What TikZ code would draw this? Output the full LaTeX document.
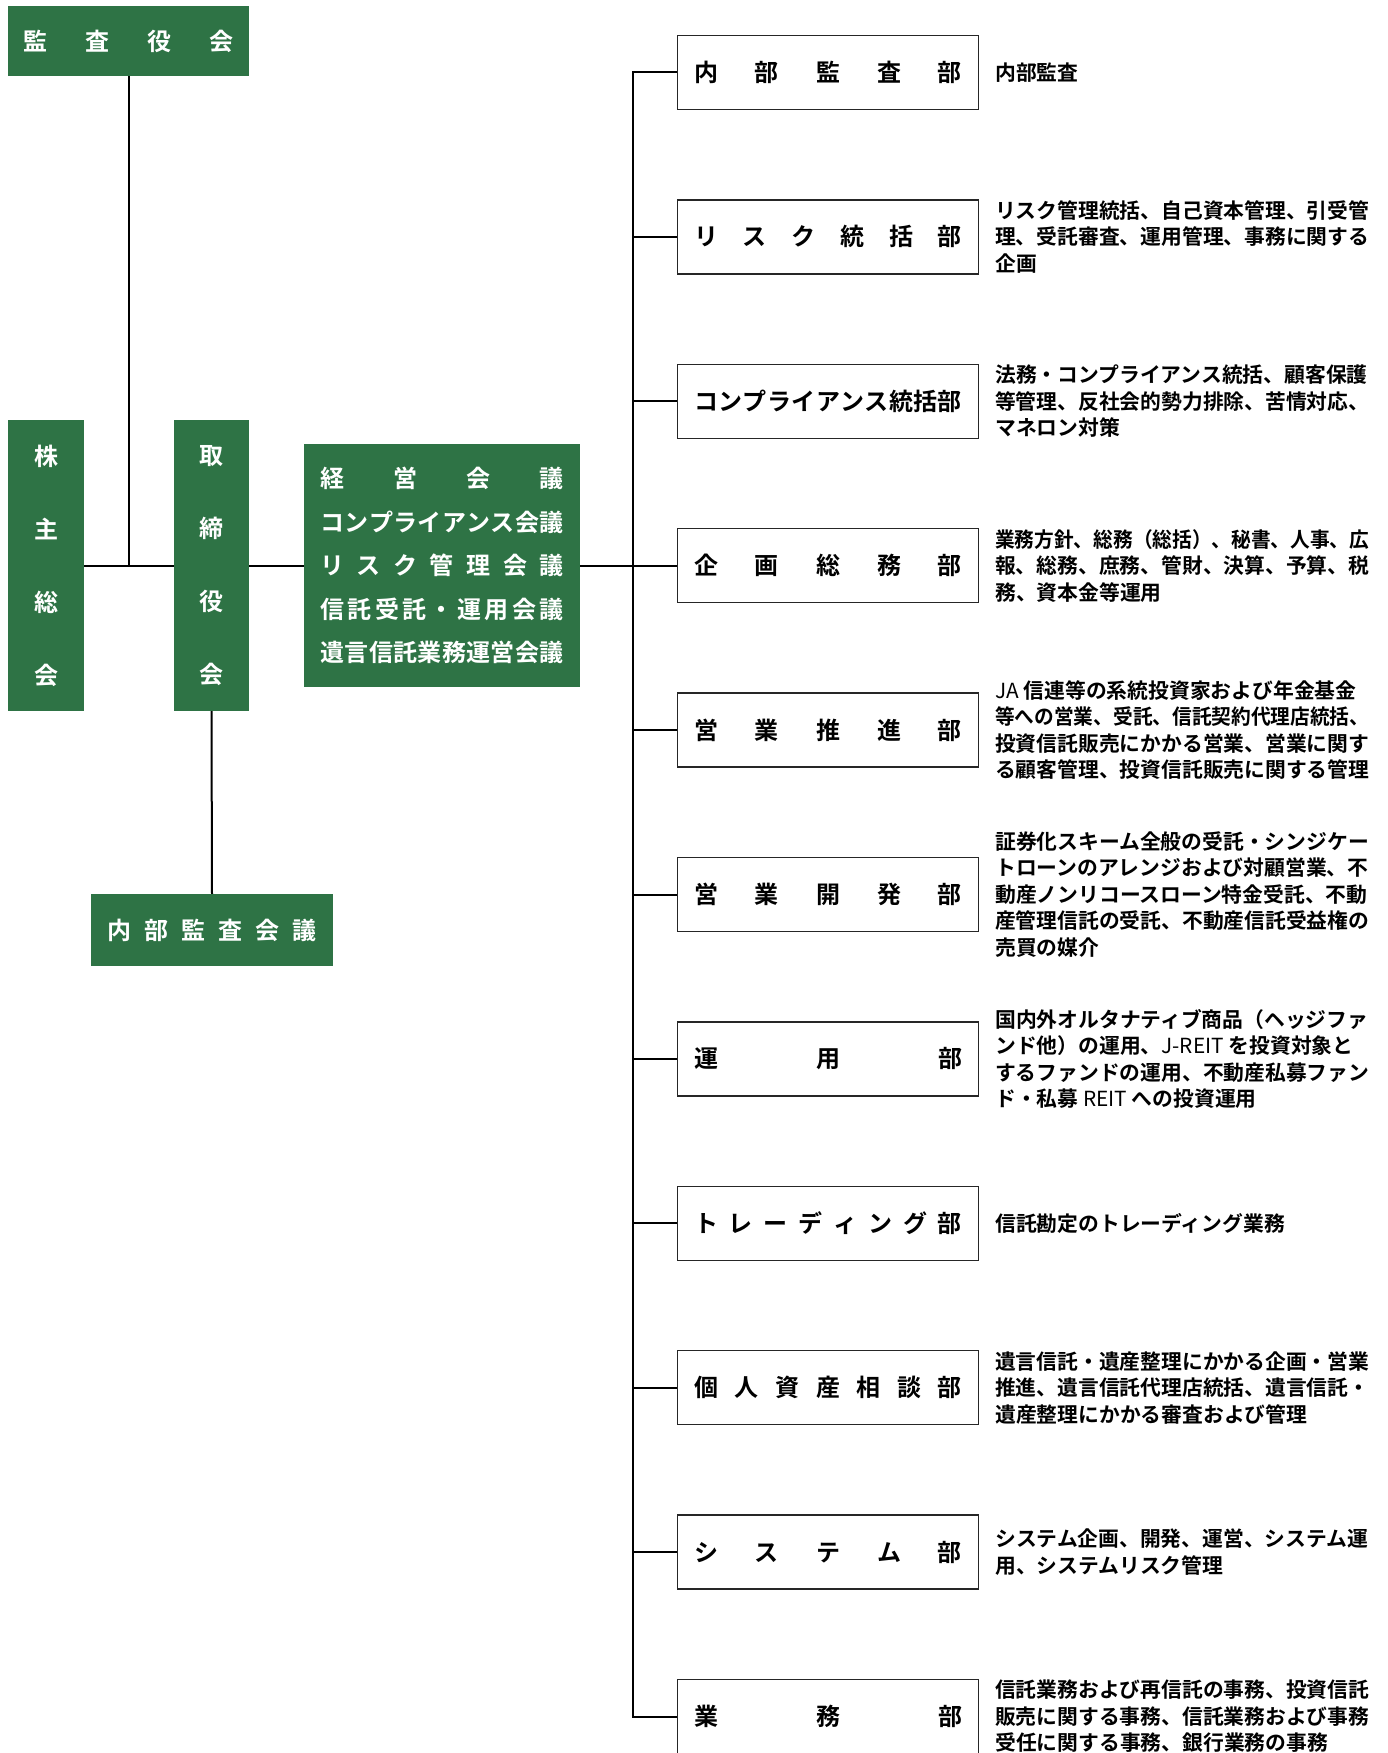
\documentclass[tikz,border=0pt]{standalone}
\usepackage{graphicx}
\usepackage{fontspec}
\setmainfont{Noto Sans CJK JP}[BoldFont={Noto Sans CJK JP Bold}]
\definecolor{grn}{RGB}{46,115,69}
\def\spreadloop#1{\ifx#1\relax\else\hfill#1\expandafter\spreadloop\fi}
\def\spreadfirst#1{#1\spreadloop}
\newcommand\spreadtext[2]{\makebox[#1][s]{\spreadfirst#2\relax}}
\newsavebox\fitbox
\newcommand\fitw[1]{\sbox\fitbox{#1}\ifdim\wd\fitbox>374pt\resizebox{374pt}{\height}{\usebox\fitbox}\else\usebox\fitbox\fi}
\begin{document}
\begin{tikzpicture}[x=1pt,y=-1pt,
  gbox/.style={fill=grn, text=white, font=\bfseries\fontsize{24}{24}\selectfont, inner sep=0pt, align=center},
  dept/.style={draw=black!85, line width=1.5pt, fill=white, minimum width=301pt, minimum height=74pt, inner sep=0pt, font=\bfseries\fontsize{24}{24}\selectfont},
  desc/.style={anchor=west, inner sep=0pt, align=left, font=\bfseries\fontsize{20.8}{26.5}\selectfont},
  conn/.style={line width=2pt, black}]
\useasboundingbox (0,0) rectangle (1387,1753);
% left side
\node[gbox, minimum width=241pt, minimum height=70pt] (kansa) at (128.5,41) {\spreadtext{210pt}{監査役会}};
\node[gbox, minimum width=76pt, minimum height=291pt, font=\bfseries\fontsize{24}{73}\selectfont] (kabu) at (46,565.5) {株\\主\\総\\会};
\node[gbox, minimum width=75pt, minimum height=291pt, font=\bfseries\fontsize{24}{73}\selectfont] (tori) at (211.5,565.5) {取\\締\\役\\会};
\node[gbox, minimum width=276pt, minimum height=243pt, font=\bfseries\fontsize{24}{43.5}\selectfont] (kei) at (442,565.5)
  {\spreadtext{243pt}{経営会議}\\\spreadtext{243pt}{コンプライアンス会議}\\\spreadtext{243pt}{リスク管理会議}\\\spreadtext{243pt}{信託受託・運用会議}\\\spreadtext{243pt}{遺言信託業務運営会議}};
\node[gbox, minimum width=242pt, minimum height=72pt] (naibu) at (212,930) {\spreadtext{209pt}{内部監査会議}};
% departments
\node[dept] (d1) at (828,72.5) {\spreadtext{268pt}{内部監査部}};
\node[dept] (d2) at (828,236.9) {\spreadtext{268pt}{リスク統括部}};
\node[dept] (d3) at (828,401.3) {\spreadtext{268pt}{コンプライアンス統括部}};
\node[dept] (d4) at (828,565.7) {\spreadtext{268pt}{企画総務部}};
\node[dept] (d5) at (828,730.1) {\spreadtext{268pt}{営業推進部}};
\node[dept] (d6) at (828,894.5) {\spreadtext{268pt}{営業開発部}};
\node[dept] (d7) at (828,1058.9) {\spreadtext{268pt}{運用部}};
\node[dept] (d8) at (828,1223.3) {\spreadtext{268pt}{トレーディング部}};
\node[dept] (d9) at (828,1387.7) {\spreadtext{268pt}{個人資産相談部}};
\node[dept] (d10) at (828,1552.1) {\spreadtext{268pt}{システム部}};
\node[dept] (d11) at (828,1716.5) {\spreadtext{268pt}{業務部}};
% descriptions
\node[desc] (t1) at (995,72.5) {内部監査};
\node[desc] (t2) at (995,236.9) {\fitw{リスク管理統括、自己資本管理、引受管}\\\fitw{理、受託審査、運用管理、事務に関する}\\企画};
\node[desc] (t3) at (995,401.3) {\fitw{法務・コンプライアンス統括、顧客保護}\\\fitw{等管理、反社会的勢力排除、苦情対応、}\\マネロン対策};
\node[desc] (t4) at (995,565.7) {\fitw{業務方針、総務（総括）、秘書、人事、広}\\\fitw{報、総務、庶務、管財、決算、予算、税}\\務、資本金等運用};
\node[desc] (t5) at (995,730.1) {\fitw{{\mdseries JA} 信連等の系統投資家および年金基金}\\\fitw{等への営業、受託、信託契約代理店統括、}\\\fitw{投資信託販売にかかる営業、営業に関す}\\\fitw{る顧客管理、投資信託販売に関する管理}};
\node[desc] (t6) at (995,894.5) {\fitw{証券化スキーム全般の受託・シンジケー}\\\fitw{トローンのアレンジおよび対顧営業、不}\\\fitw{動産ノンリコースローン特金受託、不動}\\\fitw{産管理信託の受託、不動産信託受益権の}\\売買の媒介};
\node[desc] (t7) at (995,1058.9) {\fitw{国内外オルタナティブ商品（ヘッジファ}\\\fitw{ンド他）の運用、{\mdseries J-REIT} を投資対象と}\\\fitw{するファンドの運用、不動産私募ファン}\\ド・私募 {\mdseries REIT} への投資運用};
\node[desc] (t8) at (995,1223.3) {信託勘定のトレーディング業務};
\node[desc] (t9) at (995,1387.7) {\fitw{遺言信託・遺産整理にかかる企画・営業}\\\fitw{推進、遺言信託代理店統括、遺言信託・}\\遺産整理にかかる審査および管理};
\node[desc] (t10) at (995,1552.1) {\fitw{システム企画、開発、運営、システム運}\\用、システムリスク管理};
\node[desc] (t11) at (995,1716.5) {\fitw{信託業務および再信託の事務、投資信託}\\\fitw{販売に関する事務、信託業務および事務}\\受任に関する事務、銀行業務の事務};
% connectors
\coordinate (bt) at (633,72.5);
\coordinate (bb) at (633,1716.5);
\draw[conn] (d1.west) -- (bt) -- (bb) -- (d11.west);
\foreach \i in {2,...,10} \draw[conn] (d\i.west) -- (d\i.west -| bt);
\draw[conn] (kei.east) -- (kei.east -| bt);
\draw[conn] (kabu.east) -- (tori.west);
\draw[conn] (tori.east) -- (kei.west);
\draw[conn] (kansa.south) -- (kansa.south |- kabu.east);
\draw[conn] (tori.south) -- (naibu.north);
\end{tikzpicture}
\end{document}
